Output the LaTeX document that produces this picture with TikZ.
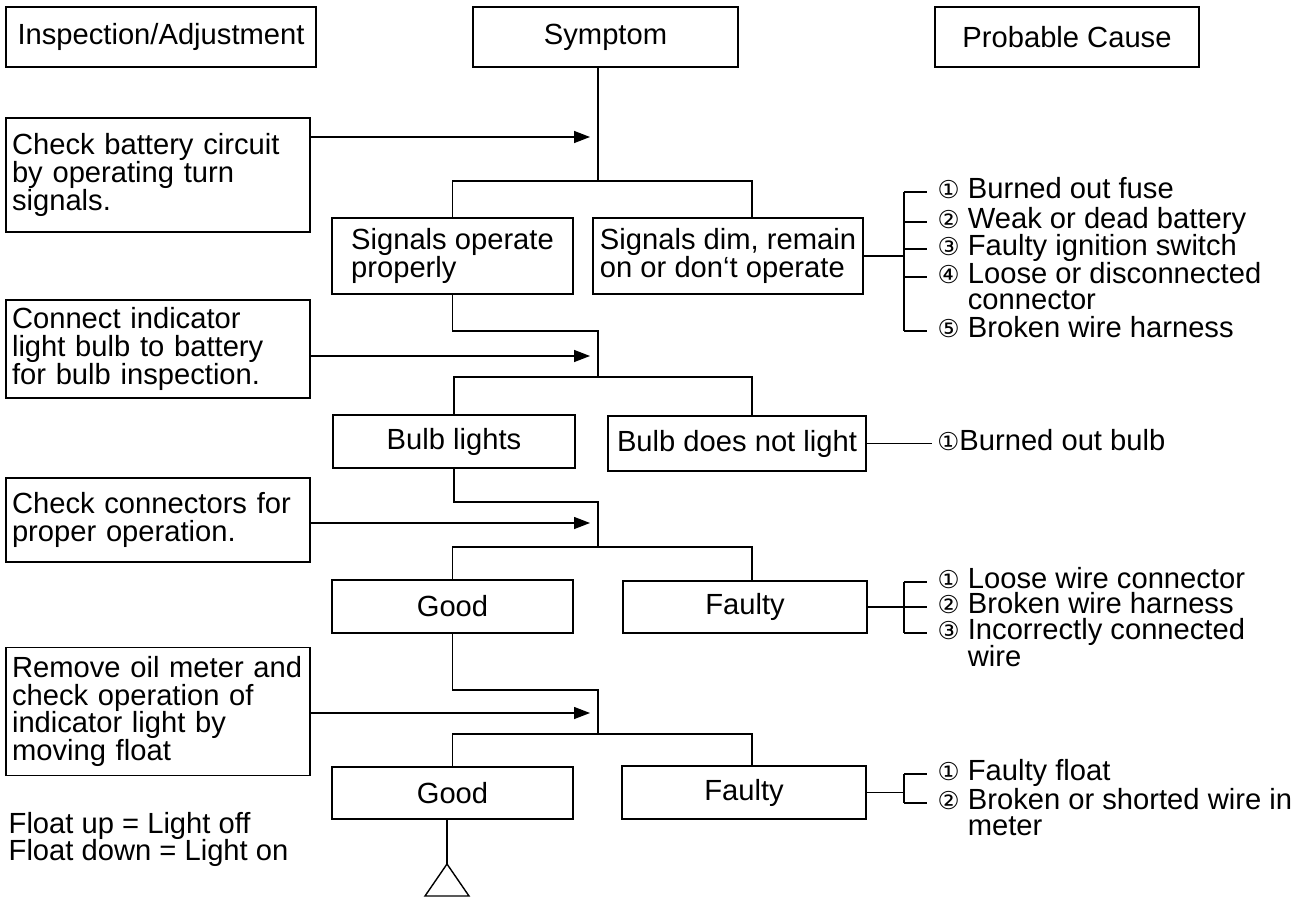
\documentclass[tikz,border=0pt]{standalone}
\usepackage{fontspec}
\setmainfont{Liberation Sans}
\newfontfamily\circfont{DejaVu Sans}
\usetikzlibrary{arrows.meta, positioning}
\newcommand\cnum[1]{{\circfont\fontsize{14pt}{15.8pt}\selectfont #1}}

\begin{document}
\begin{tikzpicture}[
  x=0.02cm, y=-0.02cm,
  line width=0.8pt,
  font=\fontsize{16.6pt}{15.8pt}\selectfont,
  head/.style={draw, minimum height=1.2cm, inner sep=0pt},
  stepbox/.style={draw, inner sep=0pt, align=left},
  note/.style={draw, align=left, text width=5.84cm, inner xsep=0.12cm, inner ysep=0pt},
  cause/.style={anchor=west, inner sep=0pt, text height=10.5pt, text depth=3pt},
  link/.style={-{Triangle[length=0.32cm, width=0.24cm]}}
]
  \useasboundingbox (0,0) rectangle (1307,898);

  % column headings
  \node[head, minimum width=6.2cm] (hdIA) at (161,37) {Inspection/Adjustment};
  \node[head, minimum width=5.3cm] (hdSym) at (605.5,37) {Symptom};
  \node[head, minimum width=5.28cm] (hdCause) at (1067,37) {Probable Cause};

  % inspection steps
  \node[note, minimum height=2.28cm] (chkBat) at (158,175) {Check battery circuit\\by operating turn\\signals.};
  \node[note, minimum height=1.96cm] (conBulb) at (158,349) {Connect indicator\\light bulb to battery\\for bulb inspection.};
  \node[note, minimum height=1.68cm] (chkConn) at (158,520) {Check connectors for\\proper operation.};
  \node[note, minimum height=2.56cm] (rmMeter) at (158,711.5) {Remove oil meter and\\check operation of\\indicator light by\\moving float};
  \node[anchor=west, align=left, inner sep=0pt] (floatNote) at (8,839.5) {Float up = Light off\\Float down = Light on};

  % symptoms
  \node[stepbox, minimum width=4.82cm, minimum height=1.52cm] (sigOk) at (452.5,256) {Signals operate\\properly};
  \node[stepbox, minimum width=5.4cm, minimum height=1.52cm] (sigDim) at (728,256) {Signals dim, remain\\on or don‘t operate};
  \node[stepbox, minimum width=4.84cm, minimum height=1.06cm] (bulbOk) at (454,441.5) {Bulb lights};
  \node[stepbox, minimum width=5.16cm, minimum height=1.1cm] (bulbNo) at (737,443.5) {Bulb does not light};
  \node[stepbox, minimum width=4.82cm, minimum height=1.06cm] (good1) at (452.5,606.5) {Good};
  \node[stepbox, minimum width=4.88cm, minimum height=1.04cm] (faulty1) at (745,607) {Faulty};
  \node[stepbox, minimum width=4.82cm, minimum height=1.04cm] (good2) at (452.5,793) {Good};
  \node[stepbox, minimum width=4.88cm, minimum height=1.06cm] (faulty2) at (744,792.5) {Faulty};

  % probable causes
  \node[cause] (c1a) at (937,192) {\cnum{①} Burned out fuse};
  \node[cause] (c1b) at (937,222) {\cnum{②} Weak or dead battery};
  \node[cause] (c1c) at (937,249) {\cnum{③} Faulty ignition switch};
  \node[cause] (c1d) at (937,277) {\cnum{④} Loose or disconnected};
  \node[cause] (c1dx) at (937,303) {\phantom{\cnum{④} }connector};
  \node[cause] (c1e) at (937,331) {\cnum{⑤} Broken wire harness};
  \node[cause, right=1.4cm of bulbNo] (c2a) {\cnum{①}Burned out bulb};
  \node[cause] (c3a) at (937,582) {\cnum{①} Loose wire connector};
  \node[cause] (c3b) at (937,607) {\cnum{②} Broken wire harness};
  \node[cause] (c3c) at (937,633) {\cnum{③} Incorrectly connected};
  \node[cause] (c3cx) at (937,660) {\phantom{\cnum{③} }wire};
  \node[cause] (c4a) at (937,774) {\cnum{①} Faulty float};
  \node[cause] (c4b) at (937,803) {\cnum{②} Broken or shorted wire in};
  \node[cause] (c4bx) at (937,829) {\phantom{\cnum{②} }meter};

  % junction points
  \coordinate (j1) at (598,181); \coordinate (r1) at (752,181); \coordinate (a1) at (590,137);
  \coordinate (k2) at (598,331); \coordinate (j2) at (598,377); \coordinate (r2) at (752,377); \coordinate (a2) at (590,356);
  \coordinate (k3) at (598,502); \coordinate (j3) at (598,547); \coordinate (r3) at (752,547); \coordinate (a3) at (590,523);
  \coordinate (k4) at (598,690); \coordinate (j4) at (598,734); \coordinate (r4) at (752,734); \coordinate (a4) at (590,713);
  \coordinate (b1) at (904,256); \coordinate (b3) at (904,607); \coordinate (b4) at (904,792);
  \coordinate (tip) at (447,864);

  % flow
  \draw (hdSym.south -| j1) -- (j1);
  \draw[link] (chkBat.east |- a1) -- (a1);
  \draw (sigOk.north) |- (r1) -- (r1 |- sigDim.north);

  \draw (sigOk.south) |- (k2) -- (j2);
  \draw[link] (conBulb.east |- a2) -- (a2);
  \draw (bulbOk.north) |- (r2) -- (r2 |- bulbNo.north);

  \draw (bulbOk.south) |- (k3) -- (j3);
  \draw[link] (chkConn.east |- a3) -- (a3);
  \draw (good1.north) |- (r3) -- (r3 |- faulty1.north);

  \draw (good1.south) |- (k4) -- (j4);
  \draw[link] (rmMeter.east |- a4) -- (a4);
  \draw (good2.north) |- (r4) -- (r4 |- faulty2.north);

  \draw (good2.south -| tip) -- (tip);
  \draw (tip) -- ++(-22,32) -- ++(44,0) -- cycle;

  % cause brackets
  \draw (sigDim.east) -- (sigDim.east -| b1);
  \draw (c1a.west -| b1) -- (c1e.west -| b1);
  \foreach \n in {a,b,c,d,e} \draw (c1\n.west -| b1) -- ([xshift=-0.2cm]c1\n.west);

  \draw (bulbNo.east) -- ([xshift=-0.1cm]c2a.west);

  \draw (faulty1.east) -- (faulty1.east -| b3);
  \draw (c3a.west -| b3) -- (c3c.west -| b3);
  \foreach \n in {a,b,c} \draw (c3\n.west -| b3) -- ([xshift=-0.2cm]c3\n.west);

  \draw (faulty2.east) -- (faulty2.east -| b4);
  \draw (c4a.west -| b4) -- (c4b.west -| b4);
  \foreach \n in {a,b} \draw (c4\n.west -| b4) -- ([xshift=-0.2cm]c4\n.west);
\end{tikzpicture}
\end{document}
